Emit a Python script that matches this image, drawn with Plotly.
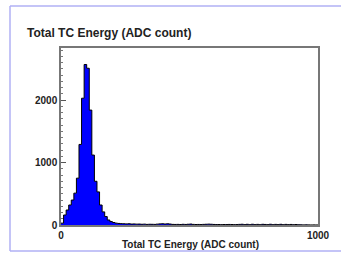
import numpy as np
import plotly.graph_objects as go

# Histogram: 100 bins of width 10 ADC counts, from 0 to 1000
bin_edges = list(range(0, 1010, 10))
counts_head = [30, 160, 240, 320, 400, 510, 750, 1290, 2030, 2570,
               2510, 1840, 1120, 700, 530, 320, 210, 135, 80, 55, 40]
counts_tail = [30, 25, 22, 20, 18, 20, 15, 17, 14, 15,
               12, 14, 10, 12, 11, 10, 14, 18, 20, 16,
               19, 15, 10, 9, 10, 8, 11, 9, 12, 15,
               10, 8, 9, 7, 10, 12, 14, 12, 9, 7,
               8, 6, 8, 7, 9, 8, 6, 7, 10, 12,
               6, 11, 5, 12, 6, 10, 5, 11, 9, 6,
               12, 5, 10, 6, 11, 5, 10, 6, 9, 5,
               8, 4, 3, 2, 3, 2, 1, 2, 1]
counts = counts_head + counts_tail

title_text = "Total TC Energy (ADC count)"
x_title = "Total TC Energy (ADC count)"
y_tickvals = [0, 1000, 2000]
x_tickvals = [0, 1000]

W, H = 341, 253
L, R, T, B = 61, 318, 48, 225  # frame pixel edges

def px_x(p):
    return (p - L) / (R - L)

def px_y(p):
    return (B - p) / (B - T)

step_x = bin_edges
step_y = counts + [counts[-1]]

fig = go.Figure()
fig.add_trace(go.Scatter(
    x=step_x, y=step_y, mode="lines", line_shape="hv",
    line=dict(color="black", width=1),
    fill="tozeroy", fillcolor="#0000ff", hoverinfo="skip", showlegend=False,
))

fig.update_layout(
    width=W, height=H,
    margin=dict(l=L, r=W - R, t=T, b=H - B, pad=0),
    paper_bgcolor="white", plot_bgcolor="white",
    font=dict(family="Liberation Sans, Arial, sans-serif", color="#222"),
    showlegend=False,
)

fig.update_xaxes(
    range=[0, 1000], tickvals=x_tickvals, ticktext=[str(v) for v in x_tickvals],
    ticks="", showgrid=False, zeroline=False,
    showline=True, mirror=True, linecolor="#777", linewidth=1.5,
    tickfont=dict(size=10, weight="bold", color="#222"),
)
fig.update_yaxes(
    range=[0, 2834], tickvals=y_tickvals, ticktext=[str(v) for v in y_tickvals],
    ticks="inside", ticklen=5, tickcolor="#555", tickwidth=1,
    minor=dict(ticks="inside", ticklen=2.5, dtick=100, tick0=0, tickcolor="#777", tickwidth=1),
    showgrid=False, zeroline=False,
    showline=True, mirror=True, linecolor="#777", linewidth=1.5,
    tickfont=dict(size=10, weight="bold", color="#222"),
)

# Title and x-axis title
fig.add_annotation(
    text=title_text, xref="paper", yref="paper", x=px_x(25), y=px_y(33),
    xanchor="left", yanchor="middle", showarrow=False,
    font=dict(size=12, weight="bold", color="#222"),
)
fig.add_annotation(
    text=x_title, xref="paper", yref="paper", x=px_x(190), y=px_y(244),
    xanchor="center", yanchor="middle", showarrow=False,
    font=dict(size=10, weight="bold", color="#222"),
)

# Lavender canvas border lines
border = dict(color="#b0b0f4", width=1.5)
fig.add_shape(type="line", xref="paper", yref="paper",
              x0=px_x(10), x1=px_x(341), y0=px_y(6), y1=px_y(6), line=border)
fig.add_shape(type="line", xref="paper", yref="paper",
              x0=px_x(10), x1=px_x(341), y0=px_y(251), y1=px_y(251), line=border)
fig.add_shape(type="line", xref="paper", yref="paper",
              x0=px_x(10), x1=px_x(10), y0=px_y(6), y1=px_y(251), line=border)

fig.write_html("out.html", config={"displayModeBar": False},
               post_script="document.body.style.margin='0';document.body.style.overflow='hidden';")
